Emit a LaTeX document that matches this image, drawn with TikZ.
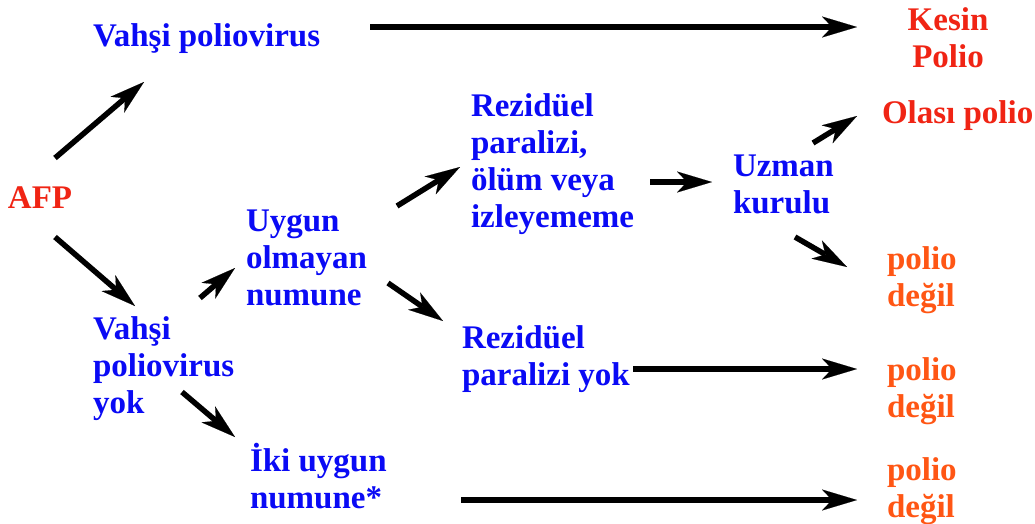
\documentclass[tikz,border=0pt]{standalone}
\usepackage{fontspec}
\setmainfont{Liberation Serif}
\usetikzlibrary{arrows.meta}

\definecolor{txtblue}{RGB}{10,10,245}
\definecolor{txtred}{RGB}{240,36,20}
\definecolor{txtorange}{RGB}{255,86,20}

% multi-line labels are placed by the baseline of their last line
\tikzset{
  lbl/.style={inner sep=0pt, outer sep=0pt, anchor=base west, align=left,
    font=\bfseries\fontsize{33}{36.8}\selectfont},
  bluetxt/.style={lbl, text=txtblue},
  redtxt/.style={lbl, text=txtred},
  orangetxt/.style={lbl, text=txtorange},
  arr/.style={line width=5.5pt, draw=black,
    -{Stealth[length=35pt,width=21pt,inset=10pt,line width=0.1pt]}}
}

\begin{document}
\begin{tikzpicture}[x=1pt,y=-1pt]
  \fill[white] (0,0) rectangle (1035,523);
  \useasboundingbox (0,0) rectangle (1035,523);

  % outcome texts and decision steps
  \node[redtxt]    (afp)    at (8,208)   {AFP};
  \node[bluetxt]   (vp)     at (93,46)   {Vahşi poliovirus};
  \node[redtxt, anchor=base, align=center] (kesin) at (948,67) {Kesin\\Polio};
  \node[bluetxt]   (vpyok)  at (93,413)  {Vahşi\\poliovirus\\yok};
  \node[bluetxt]   (uygun)  at (246,305) {Uygun\\olmayan\\numune};
  \node[bluetxt]   (iki)    at (250,508) {İki uygun\\numune*};
  \node[bluetxt]   (rezA)   at (471,227) {Rezidüel\\paralizi,\\ölüm veya\\izleyememe};
  \node[bluetxt]   (rezB)   at (462,385) {Rezidüel\\paralizi yok};
  \node[bluetxt]   (uzman)  at (733,213) {Uzman\\kurulu};
  \node[redtxt]    (olasi)  at (882,123) {Olası polio};
  \node[orangetxt] (degilA) at (887,306) {polio\\değil};
  \node[orangetxt] (degilB) at (887,417) {polio\\değil};
  \node[orangetxt] (degilC) at (887,517) {polio\\değil};

  % arrow end points
  \coordinate (vp-out)      at (370,27);
  \coordinate (kesin-in)    at (857,27);
  \coordinate (afp-up)      at (55,158);
  \coordinate (vp-in)       at (144,82);
  \coordinate (afp-down)    at (55,237);
  \coordinate (vpyok-in)    at (135,306);
  \coordinate (vpyok-up)    at (200,298);
  \coordinate (uygun-in)    at (235,268);
  \coordinate (vpyok-down)  at (182,392);
  \coordinate (iki-in)      at (235,437);
  \coordinate (uygun-down)  at (388,283);
  \coordinate (rezB-in)     at (443,321);
  \coordinate (uygun-up)    at (397,206);
  \coordinate (rezA-in)     at (460,167);
  \coordinate (rezA-out)    at (650,182);
  \coordinate (uzman-in)    at (712,182);
  \coordinate (uzman-up)    at (813,143);
  \coordinate (olasi-in)    at (857,116);
  \coordinate (uzman-down)  at (795,237);
  \coordinate (degilA-in)   at (847,267);
  \coordinate (rezB-out)    at (633,369);
  \coordinate (degilB-in)   at (857,369);
  \coordinate (iki-out)     at (461,500);
  \coordinate (degilC-in)   at (857,500);

  % connectors
  \draw[arr] (vp-out) -- (kesin-in);
  \draw[arr] (afp-up) -- (vp-in);
  \draw[arr] (afp-down) -- (vpyok-in);
  \draw[arr] (vpyok-up) -- (uygun-in);
  \draw[arr] (vpyok-down) -- (iki-in);
  \draw[arr] (uygun-down) -- (rezB-in);
  \draw[arr] (uygun-up) -- (rezA-in);
  \draw[arr] (rezA-out) -- (uzman-in);
  \draw[arr] (uzman-up) -- (olasi-in);
  \draw[arr] (uzman-down) -- (degilA-in);
  \draw[arr] (rezB-out) -- (degilB-in);
  \draw[arr] (iki-out) -- (degilC-in);
\end{tikzpicture}
\end{document}
